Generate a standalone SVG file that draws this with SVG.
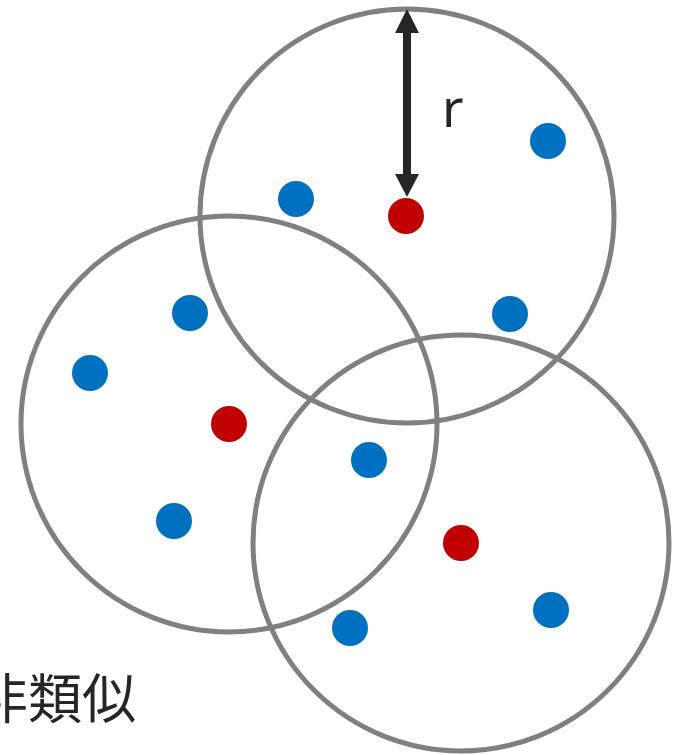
<svg xmlns="http://www.w3.org/2000/svg" width="681" height="755" viewBox="0 0 681 755">
<style>
.ring{fill:none;stroke:#808080;stroke-width:5}
.b{fill:#0070C0}
.r{fill:#C00000}
.t{font-family:"Noto Sans","Noto Sans CJK JP",sans-serif;fill:#262626}
</style>
<rect width="681" height="755" fill="#fff"/>
<g id="circles">
<circle class="ring" cx="407" cy="216" r="207"/>
<circle class="ring" cx="229" cy="424" r="208"/>
<circle class="ring" cx="461" cy="543" r="208"/>
</g>
<g id="points">
<circle class="b" cx="296" cy="199" r="18"/>
<circle class="b" cx="548" cy="141" r="18"/>
<circle class="b" cx="510" cy="314" r="18"/>
<circle class="b" cx="190" cy="313" r="18"/>
<circle class="b" cx="90" cy="373" r="18"/>
<circle class="b" cx="174" cy="521" r="18"/>
<circle class="b" cx="369" cy="460" r="18"/>
<circle class="b" cx="350" cy="628" r="18"/>
<circle class="b" cx="551" cy="610" r="18"/>
<circle class="r" cx="406" cy="216" r="18"/>
<circle class="r" cx="229" cy="424" r="18"/>
<circle class="r" cx="461" cy="543" r="18"/>
</g>
<g id="connectors">
<rect x="403" y="30" width="8" height="148" fill="#262626"/>
<polygon points="407,9 395,33 419,33" fill="#262626"/>
<polygon points="407,197 395,174 419,174" fill="#262626"/>
</g>
<text class="t" x="442" y="127" font-size="52">r</text>
<text class="t" x="-26" y="719" font-size="54">非類似</text>
</svg>
